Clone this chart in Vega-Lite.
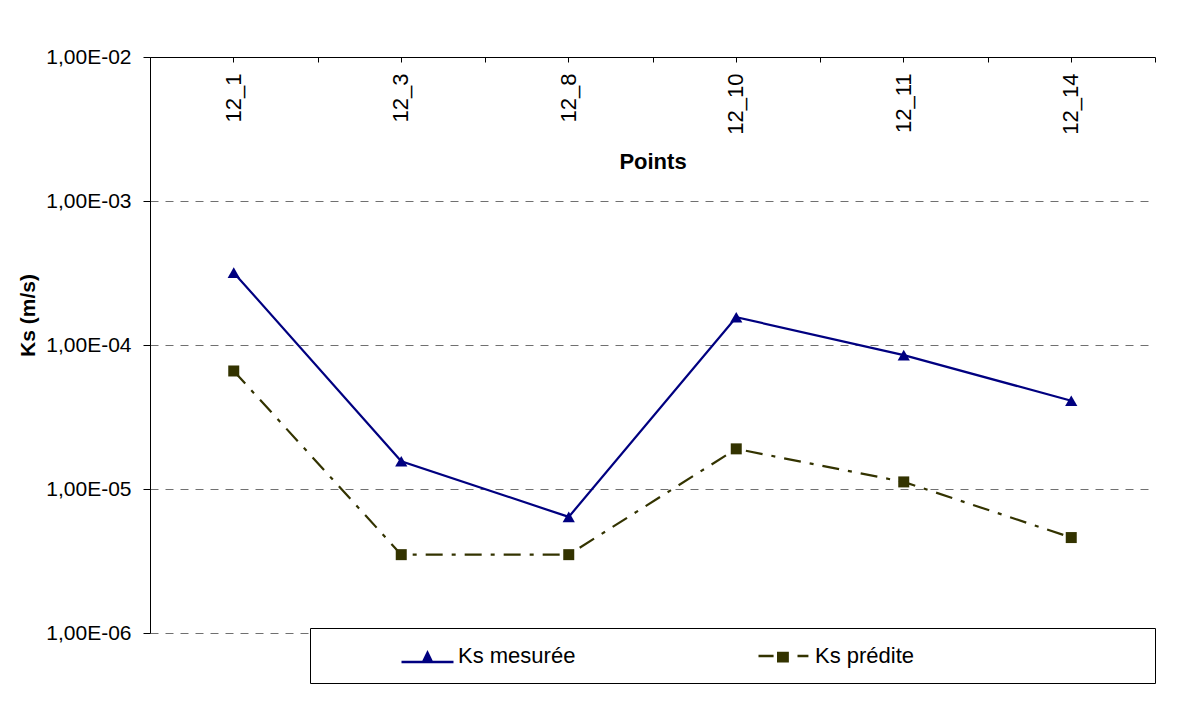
{
  "$schema": "https://vega.github.io/schema/vega-lite/v6.json",
  "width": 1005,
  "height": 576,
  "autosize": {"type": "none"},
  "padding": {"left": 150, "top": 57, "right": 47, "bottom": 91},
  "background": "white",
  "config": {
    "view": {"stroke": null},
    "font": "Liberation Sans",
    "axis": {"domainColor": "black", "tickColor": "black", "labelColor": "black", "titleColor": "black", "labelFont": "Liberation Sans", "titleFont": "Liberation Sans"}
  },
  "data": {
    "values": [
      {"point": "12_1", "serie": "Ks mesurée", "ks": 0.000318},
      {"point": "12_3", "serie": "Ks mesurée", "ks": 0.0000156},
      {"point": "12_8", "serie": "Ks mesurée", "ks": 0.0000064},
      {"point": "12_10", "serie": "Ks mesurée", "ks": 0.000156},
      {"point": "12_11", "serie": "Ks mesurée", "ks": 0.000085},
      {"point": "12_14", "serie": "Ks mesurée", "ks": 0.000041},
      {"point": "12_1", "serie": "Ks prédite", "ks": 0.000066},
      {"point": "12_3", "serie": "Ks prédite", "ks": 0.0000035},
      {"point": "12_8", "serie": "Ks prédite", "ks": 0.0000035},
      {"point": "12_10", "serie": "Ks prédite", "ks": 0.000019},
      {"point": "12_11", "serie": "Ks prédite", "ks": 0.0000112},
      {"point": "12_14", "serie": "Ks prédite", "ks": 0.0000046}
    ]
  },
  "encoding": {
    "y": {
      "field": "ks", "type": "quantitative",
      "scale": {"type": "log", "domain": [0.000001, 0.01], "nice": false},
      "axis": {
        "values": [0.000001, 0.00001, 0.0001, 0.001, 0.01],
        "labelExpr": "'1,00E-0' + (-round(log(datum.value) / LN10))",
        "title": "Ks (m/s)", "titleFontSize": 21, "titleFontWeight": "bold",
        "titleX": -122, "titleY": 258, "titleAngle": -90, "titleBaseline": "middle", "titleAlign": "center",
        "labelFontSize": 21, "labelPadding": 12, "tickSize": 7,
        "grid": true, "gridDash": [8, 7], "gridColor": "#707070", "gridWidth": 1
      }
    },
    "color": {
      "field": "serie", "type": "nominal",
      "scale": {"domain": ["Ks mesurée", "Ks prédite"], "range": ["#000080", "#333300"]},
      "legend": {
        "title": "\u00a0", "titleOrient": "right", "titlePadding": 226, "titleFontSize": 22,
        "orient": "none", "legendX": 160, "legendY": 571, "direction": "horizontal",
        "strokeColor": "black", "fillColor": "white", "padding": 15, "clipHeight": 25,
        "symbolSize": 2704, "symbolStrokeWidth": 2.5, "symbolOffset": 75, "labelOffset": 3, "columnPadding": 106,
        "labelFontSize": 22, "labelColor": "black", "labelFont": "Liberation Sans", "labelLimit": 400,
        "encode": {
          "symbols": {
            "update": {
              "shape": {"signal": "datum.value === 'Ks mesurée' ? 'M-1,0.25H1M0,-0.1L0.17,0.25H-0.17Z' : 'M-1,0.02H-0.42M-0.24,-0.1H0.12V0.22H-0.24ZM0.5,0.02H0.92'"},
              "fill": {"scale": "color", "field": "value"},
              "stroke": {"scale": "color", "field": "value"},
              "strokeWidth": {"value": 2.5},
              "size": {"value": 2704},
              "strokeDash": {"value": []},
              "opacity": {"value": 1}
            }
          }
        }
      }
    }
  },
  "resolve": {"axis": {"x": "independent"}},
  "layer": [
    {
      "transform": [{"filter": "datum.serie === 'Ks mesurée'"}],
      "mark": {"type": "line", "strokeWidth": 2.2},
      "encoding": {
        "x": {
          "field": "point", "type": "nominal",
          "sort": ["12_1", "12_3", "12_8", "12_10", "12_11", "12_14"],
          "bandPosition": 0.5,
          "scale": {"type": "band", "paddingInner": 0, "paddingOuter": 0},
          "axis": {
            "orient": "bottom", "offset": -576,
            "title": "Points", "titleFontSize": 22, "titleFontWeight": "bold", "titleY": 104, "titleBaseline": "middle",
            "labelAngle": -90, "labelFontSize": 22, "labelPadding": 11, "tickSize": 5, "grid": false
          }
        }
      }
    },
    {
      "transform": [{"filter": "datum.serie === 'Ks mesurée'"}],
      "mark": {"type": "point", "shape": "triangle-up", "filled": true, "size": 150, "opacity": 1},
      "encoding": {
        "x": {
          "field": "point", "type": "nominal",
          "sort": ["12_1", "12_3", "12_8", "12_10", "12_11", "12_14"],
          "bandPosition": 0.5,
          "scale": {"type": "band", "paddingInner": 0, "paddingOuter": 0},
          "axis": {
            "orient": "bottom", "offset": -576, "tickBand": "extent",
            "labels": false, "domain": false, "title": null, "grid": false, "tickSize": 5
          }
        }
      }
    },
    {
      "transform": [{"filter": "datum.serie === 'Ks prédite'"}],
      "mark": {"type": "line", "strokeWidth": 2.2, "strokeDash": [17, 9, 4, 9]},
      "encoding": {
        "x": {
          "field": "point", "type": "nominal",
          "sort": ["12_1", "12_3", "12_8", "12_10", "12_11", "12_14"],
          "bandPosition": 0.5,
          "scale": {"type": "band", "paddingInner": 0, "paddingOuter": 0},
          "axis": null
        }
      }
    },
    {
      "transform": [{"filter": "datum.serie === 'Ks prédite'"}],
      "mark": {"type": "point", "shape": "square", "filled": true, "size": 121, "opacity": 1},
      "encoding": {
        "x": {
          "field": "point", "type": "nominal",
          "sort": ["12_1", "12_3", "12_8", "12_10", "12_11", "12_14"],
          "bandPosition": 0.5,
          "scale": {"type": "band", "paddingInner": 0, "paddingOuter": 0},
          "axis": null
        }
      }
    }
  ]
}
